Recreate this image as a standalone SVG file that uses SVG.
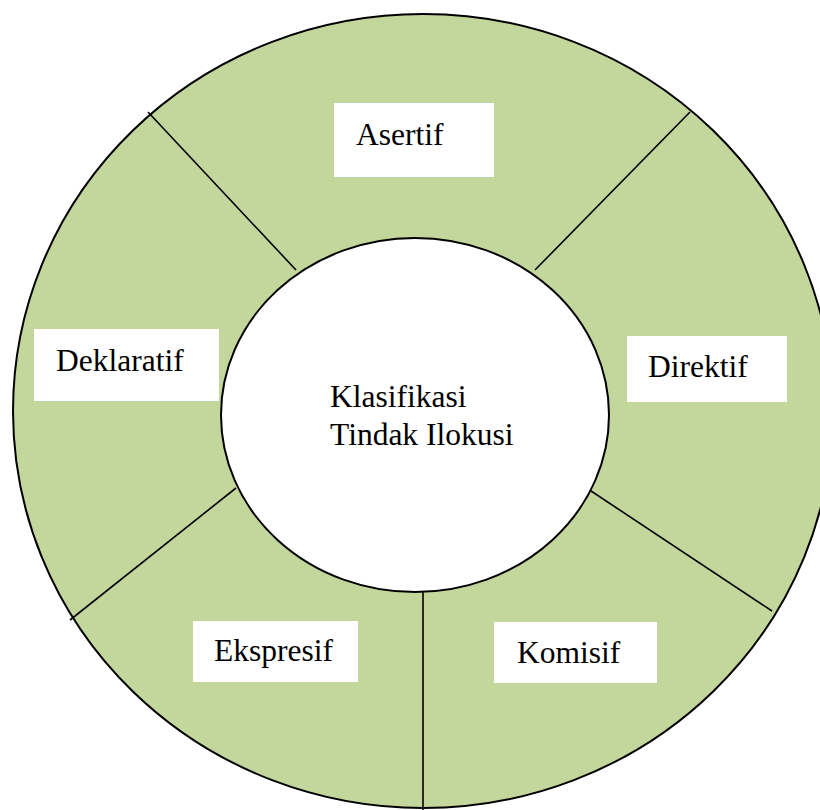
<svg xmlns="http://www.w3.org/2000/svg" width="820" height="810" viewBox="0 0 820 810">
<style>
.lbl{font-family:"Liberation Serif","Times New Roman",serif;font-size:31.5px;fill:#000}
.box{fill:#fff;stroke:none}
.div{stroke:#000;stroke-width:1.6;fill:none}
</style>
<rect width="820" height="810" fill="#fff"/>
<g id="ring">
<ellipse cx="423" cy="411" rx="410" ry="397" fill="#C3D69B" stroke="#000" stroke-width="2"/>
</g>
<g id="connectors">
<line class="div" x1="148" y1="112" x2="296" y2="270"/>
<line class="div" x1="690" y1="112" x2="535" y2="270"/>
<line class="div" x1="585" y1="487" x2="772" y2="611"/>
<line class="div" x1="423" y1="592" x2="423" y2="810"/>
<line class="div" x1="236" y1="488" x2="70" y2="620"/>
</g>
<g id="center">
<ellipse cx="415" cy="415" rx="194" ry="177" fill="#fff" stroke="#000" stroke-width="2"/>
<text class="lbl" x="330" y="407">Klasifikasi</text>
<text class="lbl" x="330" y="445">Tindak Ilokusi</text>
</g>
<g id="asertif">
<rect class="box" x="334" y="103" width="160" height="74"/>
<text class="lbl" x="356" y="145">Asertif</text>
</g>
<g id="direktif">
<rect class="box" x="627" y="336" width="160" height="66"/>
<text class="lbl" x="648" y="377">Direktif</text>
</g>
<g id="komisif">
<rect class="box" x="494" y="622" width="163" height="61"/>
<text class="lbl" x="517" y="663">Komisif</text>
</g>
<g id="ekspresif">
<rect class="box" x="193" y="621" width="165" height="61"/>
<text class="lbl" x="214" y="661">Ekspresif</text>
</g>
<g id="deklaratif">
<rect class="box" x="34" y="329" width="185" height="72"/>
<text class="lbl" x="56" y="371">Deklaratif</text>
</g>
</svg>
